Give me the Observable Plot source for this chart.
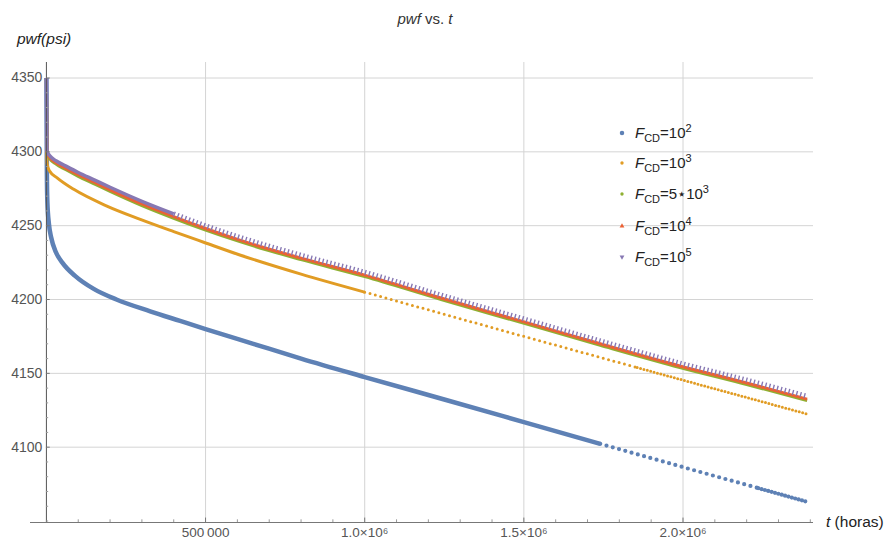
<!DOCTYPE html>
<html><head><meta charset="utf-8">
<script src="https://cdn.jsdelivr.net/npm/d3@7"></script>
<script src="https://cdn.jsdelivr.net/npm/@observablehq/plot@0.6"></script>
<style>
body{margin:0;background:#fff;}
#chart{position:relative;width:894px;height:543px;font-family:"Liberation Sans",Arial,sans-serif;}
</style>
</head><body><div id="chart"></div>
<script>
// ---- data ----
const seriesNames = ["FCD=10^2","FCD=10^3","FCD=5*10^3","FCD=10^4","FCD=10^5"];
const colors = ["#5E81B5","#E19C24","#8FB032","#EB6235","#8778B3"];

const tBlue = [0,1500,3000,8000,15000,30000,50000,90000,150000,220000,326000,420000,500000,650000,800000,1000000,1250000,1500000,1740000,2000000,2236000,2390000];
const pBlue = [4350,4285,4266,4251,4242,4232,4225,4216,4207,4200,4192,4185.5,4180,4170,4160,4147.5,4132.3,4117,4102.3,4086.5,4072.3,4063];

const tOrange = [0,1500,2200,10000,33600,86000,190000,295000,400000,494000,610000,800000,1000000,1240000,1490000,1740000,1856000,1990000,2390000];
const pOrange = [4350,4296,4291.7,4287,4282.4,4274.6,4263.3,4254.3,4246,4238.8,4230,4217.2,4205,4190.6,4175.6,4160.8,4153.9,4146,4122.5];

const tUpper = [0,1500,3000,10000,30000,60000,100000,150000,200000,300000,400000,500000,610000,800000,1000000,1240000,1490000,1740000,1990000,2200000,2390000];
const pGreen  = [4350,4300.3,4298,4295.3,4291.7,4288,4283.4,4278.3,4273.2,4263.6,4255,4247,4239,4227,4215.5,4200,4184.5,4169,4154,4142.5,4131.5];
const pRed    = [4350,4301,4298.8,4296.2,4292.6,4289,4284.5,4279.4,4274.3,4264.7,4256.1,4248.1,4240,4228,4216.5,4201,4185.5,4170,4155,4143.5,4132.5];
const pPurple = [4350,4302,4300,4297.5,4294,4290.5,4286,4281,4276,4266.5,4258,4250,4242,4230,4218.5,4203,4187.5,4172,4157,4145.5,4134.5];

const yTicks = [4100,4150,4200,4250,4300,4350];
const yMinor = [4050,4060,4070,4080,4090,4110,4120,4130,4140,4160,4170,4180,4190,4210,4220,4230,4240,4260,4270,4280,4290,4310,4320,4330,4340];
const xTicks = [500000,1000000,1500000,2000000];
const xTickLabels = ["500\u2009000","1.0\u00d710\u2076","1.5\u00d710\u2076","2.0\u00d710\u2076"];
const xMinor = [100000,200000,300000,400000,600000,700000,800000,900000,1100000,1200000,1300000,1400000,1600000,1700000,1800000,1900000,2100000,2200000,2300000,2400000];

// ---- helpers ----
const rows = (t, p) => t.map((v, i) => ({t: v, p: p[i]}));
const seg = (t, p, a, b) => rows(t, p).filter(d => d.t >= a && d.t <= b);
const X0 = -50000, X1 = 2410000, Y0 = 4049, Y1 = 4360.5;
const line = (data, stroke, w, dash) => Plot.line(data, {x: "t", y: "p", stroke, strokeWidth: w, curve: "monotone-x",
  strokeDasharray: dash, strokeLinecap: dash && dash.startsWith("0") ? "round" : "butt"});

const plot = Plot.plot({
  width: 894, height: 543,
  marginLeft: 30, marginRight: 81, marginTop: 62, marginBottom: 21,
  x: {domain: [X0, X1], axis: null},
  y: {domain: [Y0, Y1], axis: null},
  style: {fontFamily: "'Liberation Sans', Arial, sans-serif", background: "#fff"},
  marks: [
    Plot.ruleY(yTicks, {x1: 0, x2: X1, stroke: "#d4d4d4", strokeWidth: 1}),
    Plot.ruleX(xTicks, {y1: Y0, y2: Y1, stroke: "#d4d4d4", strokeWidth: 1}),
    // series (Mathematica draw order)
    line(seg(tBlue, pBlue, 0, 1740000), colors[0], 4.5),
    line(seg(tBlue, pBlue, 1740000, 2236000), colors[0], 4.2, "0 6.5"),
    line(seg(tBlue, pBlue, 2236000, 2390000), colors[0], 4.2, "0 3.5"),
    line(seg(tOrange, pOrange, 0, 1000000), colors[1], 3),
    line(seg(tOrange, pOrange, 1000000, 1856000), colors[1], 3, "0 5.5"),
    line(seg(tOrange, pOrange, 1856000, 2390000), colors[1], 3, "0 3.5"),
    line(rows(tUpper, pGreen), colors[2], 3),
    line(rows(tUpper, pRed), colors[3], 3),
    line(seg(tUpper, pPurple, 0, 400000), colors[4], 3.5),
    line(seg(tUpper, pPurple, 400000, 2390000), colors[4], 5, "1.4 2.6"),
    // axes
    Plot.ruleY([Y0], {x1: X0, x2: X1, stroke: "#777", strokeWidth: 1}),
    Plot.ruleX([0], {y1: Y0, y2: Y1, stroke: "#555", strokeWidth: 1}),
    Plot.ruleY(yTicks, {x1: 0, x2: 12000, stroke: "#777"}),
    Plot.ruleY(yMinor, {x1: 0, x2: 7000, stroke: "#999"}),
    Plot.ruleX(xTicks, {y1: Y0, y2: Y0 + 3, stroke: "#777"}),
    Plot.ruleX(xMinor, {y1: Y0, y2: Y0 + 1.8, stroke: "#999"}),
    Plot.text(yTicks, {x: 0, y: d => d, text: d => String(d), dx: -4, textAnchor: "end", fill: "#555", fontSize: 14}),
    Plot.text(xTicks, {x: d => d, y: Y0, text: (d, i) => xTickLabels[i], dy: 10, fill: "#555", fontSize: 13.5})
  ]
});
document.getElementById("chart").appendChild(plot);

// ---- titles and legend ----
const svg = d3.select(plot);
const title = svg.append("text").attr("x", 425).attr("y", 24).attr("text-anchor", "middle")
  .attr("font-size", 15).attr("fill", "#333");
title.append("tspan").attr("font-style", "italic").text("pwf");
title.append("tspan").text(" vs. ");
title.append("tspan").attr("font-style", "italic").text("t");

svg.append("text").attr("x", 17).attr("y", 44).attr("text-anchor", "start").attr("font-size", 15.5).attr("fill", "#222")
  .attr("font-style", "italic").text("pwf(psi)");

const xl = svg.append("text").attr("x", 826).attr("y", 527).attr("text-anchor", "start").attr("font-size", 15.5).attr("fill", "#222");
xl.append("tspan").attr("font-style", "italic").text("t");
xl.append("tspan").text(" (horas)");

const legendRows = [
  {pre: "10", sup: "2"}, {pre: "10", sup: "3"}, {pre: "5\u22c610", sup: "3"}, {pre: "10", sup: "4"}, {pre: "10", sup: "5"}
];
const legendY = [133, 163, 194, 226, 257];
const sym = [d3.symbolCircle, d3.symbolCircle, d3.symbolCircle, d3.symbolTriangle, d3.symbolTriangle];
const symSize = [16, 9, 9, 10, 10];
legendRows.forEach((r, i) => {
  const g = svg.append("g").attr("transform", `translate(0,${legendY[i]})`);
  g.append("path").attr("d", d3.symbol(sym[i], symSize[i])())
    .attr("transform", `translate(622,0)${i === 4 ? " rotate(180)" : ""}`)
    .attr("fill", colors[i]);
  const t = g.append("text").attr("x", 635).attr("y", 5).attr("text-anchor", "start").attr("font-size", 15).attr("fill", "#222");
  t.append("tspan").attr("font-style", "italic").text("F");
  t.append("tspan").attr("font-size", 11).attr("dy", 4).text("CD");
  t.append("tspan").attr("dy", -4).text("=" + r.pre);
  t.append("tspan").attr("font-size", 11).attr("dy", -6).text(r.sup);
});
</script>
</body></html>
